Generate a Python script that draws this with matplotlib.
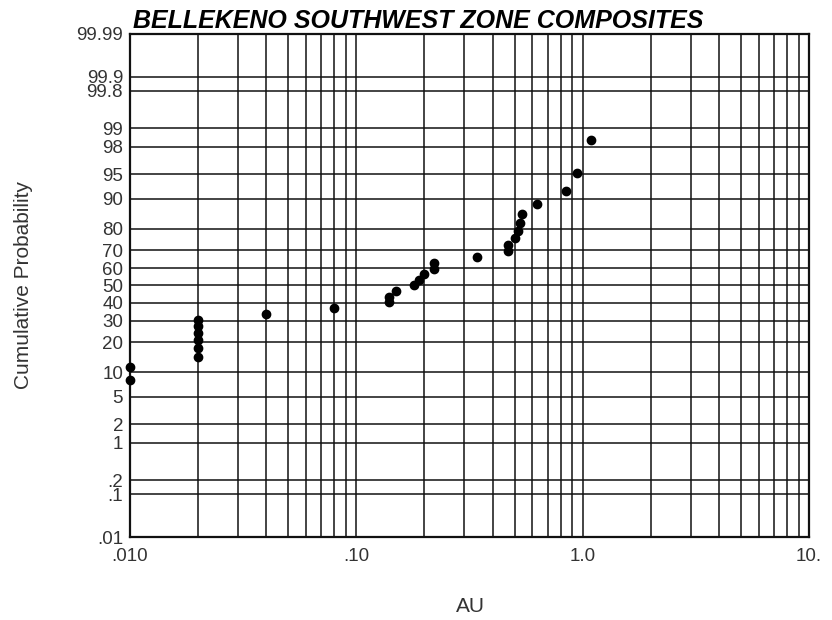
import numpy as np
import matplotlib
matplotlib.use("Agg")
import matplotlib.pyplot as plt
from statistics import NormalDist

# Data (AU grade vs cumulative probability, %)
au = [0.010, 0.010,
      0.020, 0.020, 0.020, 0.020, 0.020, 0.020,
      0.040, 0.080,
      0.14, 0.14, 0.15, 0.18, 0.19, 0.20, 0.22, 0.22,
      0.34, 0.47, 0.47, 0.50, 0.52, 0.53, 0.54,
      0.63, 0.84, 0.94, 1.09]
cum_prob = [8.1, 11.3,
            14.5, 17.7, 21.0, 24.2, 27.4, 30.6,
            33.9, 37.1,
            40.3, 43.5, 46.8, 50.0, 53.2, 56.5, 59.7, 62.9,
            66.1, 69.4, 72.6, 75.8, 79.0, 82.3, 85.5,
            88.7, 91.9, 95.2, 98.4]

y_ticks = [0.01, 0.1, 0.2, 1, 2, 5, 10, 20, 30, 40, 50, 60, 70, 80, 90, 95, 98, 99, 99.8, 99.9, 99.99]
y_labels = [".01", ".1", ".2", "1", "2", "5", "10", "20", "30", "40", "50", "60", "70", "80",
            "90", "95", "98", "99", "99.8", "99.9", "99.99"]
x_ticks = [0.01, 0.1, 1, 10]
x_labels = [".010", ".10", "1.0", "10."]

plt.rcParams['font.family'] = ['Liberation Sans', 'DejaVu Sans']

_nd = NormalDist()
_ppf = np.vectorize(_nd.inv_cdf, otypes=[float])
_cdf = np.vectorize(_nd.cdf, otypes=[float])


def fwd(p):
    p = np.asarray(p, dtype=float)
    q = np.clip(p / 100.0, 1e-9, 1 - 1e-9)
    return _ppf(q)


def inv(z):
    z = np.asarray(z, dtype=float)
    return _cdf(z) * 100.0


fig = plt.figure(figsize=(8.32, 6.2), dpi=100)
ax = fig.add_axes([130 / 832, 83 / 620, 679 / 832, 503 / 620])
ax.set_xscale('log')
ax.set_yscale('function', functions=(fwd, inv))
ax.set_xlim(0.01, 10)
ax.set_ylim(0.01, 99.99)

ax.set_xticks(x_ticks)
ax.set_xticklabels(x_labels)
minor = [m * d for d in (0.01, 0.1, 1) for m in range(2, 10)]
ax.set_xticks(minor, minor=True)
ax.set_xticklabels([], minor=True)
ax.set_yticks(y_ticks)
ax.set_yticklabels(y_labels)
ax.set_yticks([], minor=True)

ax.grid(True, which='both', axis='x', color='#111111', linewidth=1.1)
ax.grid(True, which='major', axis='y', color='#111111', linewidth=1.1)
ax.set_axisbelow(True)

ax.tick_params(axis='both', which='both', length=0, labelsize=13.5, labelcolor='#333333')
ax.tick_params(axis='x', pad=8)
ax.tick_params(axis='y', pad=5)

for s in ax.spines.values():
    s.set_linewidth(1.6)
    s.set_color('#111111')

ax.plot(au, cum_prob, 'o', color='black', markersize=6, clip_on=False, zorder=5)

ax.text(0.004, 1.002, "BELLEKENO SOUTHWEST ZONE COMPOSITES", transform=ax.transAxes,
        fontsize=18, fontweight='bold', fontstyle='italic', ha='left', va='bottom')

fig.text(24 / 832, 1 - 285 / 620, "Cumulative Probability", rotation=90,
         ha='center', va='center', fontsize=15, color='#333333')
fig.text(470 / 832, 1 - 606 / 620, "AU", ha='center', va='center', fontsize=15, color='#333333')

fig.savefig("out.png", dpi=100, facecolor='white')
